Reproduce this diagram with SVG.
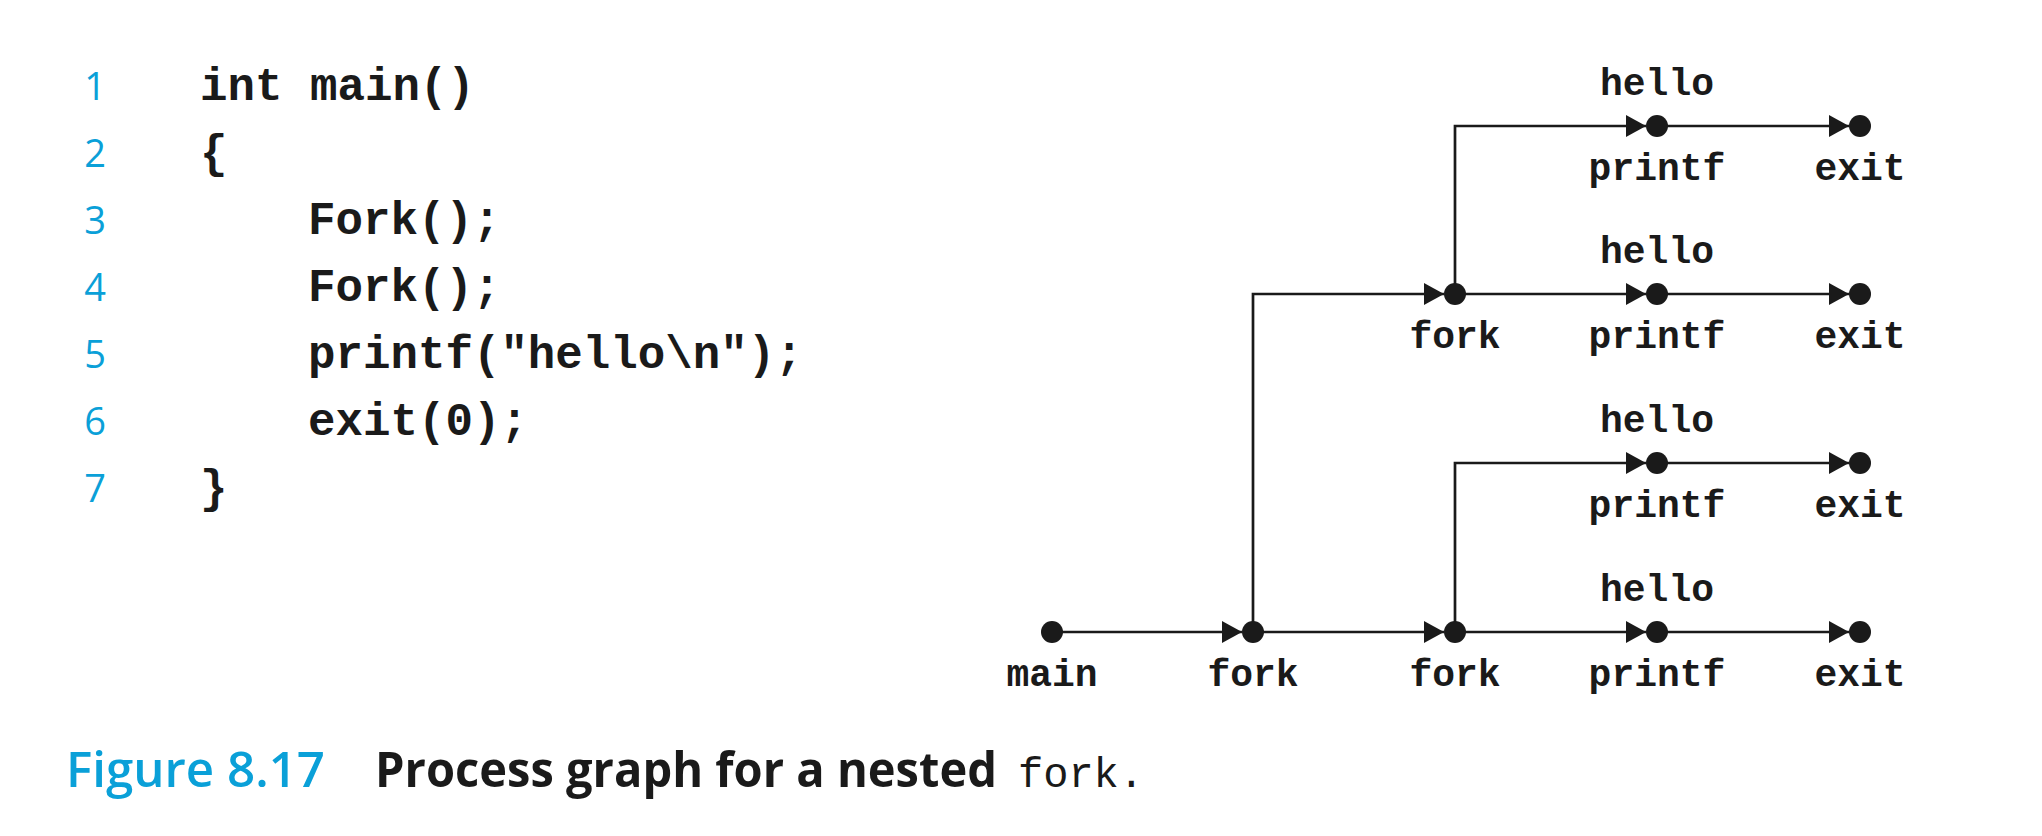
<svg xmlns="http://www.w3.org/2000/svg" width="2042" height="836" viewBox="0 0 2042 836">
<style>
.code{font-family:"Liberation Mono","DejaVu Sans Mono",monospace;font-weight:bold;font-size:45.8px;fill:#1a1a1a}
.ln{font-family:"Open Sans","Noto Sans",sans-serif;font-weight:500;font-size:38px;fill:#0aa0d8;text-anchor:middle}
.lbl{font-family:"Liberation Mono","DejaVu Sans Mono",monospace;font-weight:bold;font-size:38px;fill:#1a1a1a;text-anchor:middle}
.dot{fill:#1a1a1a}
.edge{fill:none;stroke:#1a1a1a;stroke-width:2.7;marker-end:url(#arr)}
.cap{font-family:"Open Sans","Noto Sans",sans-serif;font-weight:600;font-size:49px}
.capb{font-family:"Open Sans","Noto Sans",sans-serif;font-weight:700;font-size:49px;fill:#1a1a1a}
</style>
<defs>
<marker id="arr" markerUnits="userSpaceOnUse" markerWidth="20" markerHeight="22" refX="20" refY="11" orient="auto">
<path d="M0,0 L20,11 L0,22 z" fill="#1a1a1a"/>
</marker>
</defs>
<rect width="2042" height="836" fill="#ffffff"/>
<g id="code">
<text class="ln" x="95" y="100">1</text>
<text class="ln" x="95" y="167">2</text>
<text class="ln" x="95" y="234">3</text>
<text class="ln" x="95" y="301">4</text>
<text class="ln" x="95" y="368">5</text>
<text class="ln" x="95" y="435">6</text>
<text class="ln" x="95" y="502">7</text>
<text class="code" x="200" y="100">int main()</text>
<text class="code" x="200" y="167">{</text>
<text class="code" x="308" y="234">Fork();</text>
<text class="code" x="308" y="301">Fork();</text>
<text class="code" x="308" y="368">printf("hello\n");</text>
<text class="code" x="308" y="435">exit(0);</text>
<text class="code" x="200" y="502">}</text>
</g>
<g id="connectors">
<path class="edge" d="M1052,632 H1242"/>
<path class="edge" d="M1253,632 H1444"/>
<path class="edge" d="M1455,632 H1646"/>
<path class="edge" d="M1657,632 H1849"/>
<path class="edge" d="M1253,632 V294 H1444"/>
<path class="edge" d="M1455,294 H1646"/>
<path class="edge" d="M1657,294 H1849"/>
<path class="edge" d="M1455,294 V126 H1646"/>
<path class="edge" d="M1657,126 H1849"/>
<path class="edge" d="M1455,632 V463 H1646"/>
<path class="edge" d="M1657,463 H1849"/>
</g>
<g id="n-main"><circle class="dot" cx="1052" cy="632" r="11"/><text class="lbl" x="1052" y="686">main</text></g>
<g id="n-fork1"><circle class="dot" cx="1253" cy="632" r="11"/><text class="lbl" x="1253" y="686">fork</text></g>
<g id="n-fork2"><circle class="dot" cx="1455" cy="632" r="11"/><text class="lbl" x="1455" y="686">fork</text></g>
<g id="n-printf4"><circle class="dot" cx="1657" cy="632" r="11"/><text class="lbl" x="1657" y="601">hello</text><text class="lbl" x="1657" y="686">printf</text></g>
<g id="n-exit4"><circle class="dot" cx="1860" cy="632" r="11"/><text class="lbl" x="1860" y="686">exit</text></g>
<g id="n-printf3"><circle class="dot" cx="1657" cy="463" r="11"/><text class="lbl" x="1657" y="432">hello</text><text class="lbl" x="1657" y="517">printf</text></g>
<g id="n-exit3"><circle class="dot" cx="1860" cy="463" r="11"/><text class="lbl" x="1860" y="517">exit</text></g>
<g id="n-fork3"><circle class="dot" cx="1455" cy="294" r="11"/><text class="lbl" x="1455" y="348">fork</text></g>
<g id="n-printf2"><circle class="dot" cx="1657" cy="294" r="11"/><text class="lbl" x="1657" y="263">hello</text><text class="lbl" x="1657" y="348">printf</text></g>
<g id="n-exit2"><circle class="dot" cx="1860" cy="294" r="11"/><text class="lbl" x="1860" y="348">exit</text></g>
<g id="n-printf1"><circle class="dot" cx="1657" cy="126" r="11"/><text class="lbl" x="1657" y="95">hello</text><text class="lbl" x="1657" y="180">printf</text></g>
<g id="n-exit1"><circle class="dot" cx="1860" cy="126" r="11"/><text class="lbl" x="1860" y="180">exit</text></g>
<g id="caption">
<text class="cap" x="66" y="787" fill="#0aa0d8" textLength="259" lengthAdjust="spacingAndGlyphs">Figure 8.17</text>
<text class="capb" x="375" y="787" textLength="622" lengthAdjust="spacingAndGlyphs">Process graph for a nested</text>
<text x="1018" y="787" font-family="Liberation Mono, DejaVu Sans Mono, monospace" font-size="42" fill="#1a1a1a">fork.</text>
</g>
</svg>
